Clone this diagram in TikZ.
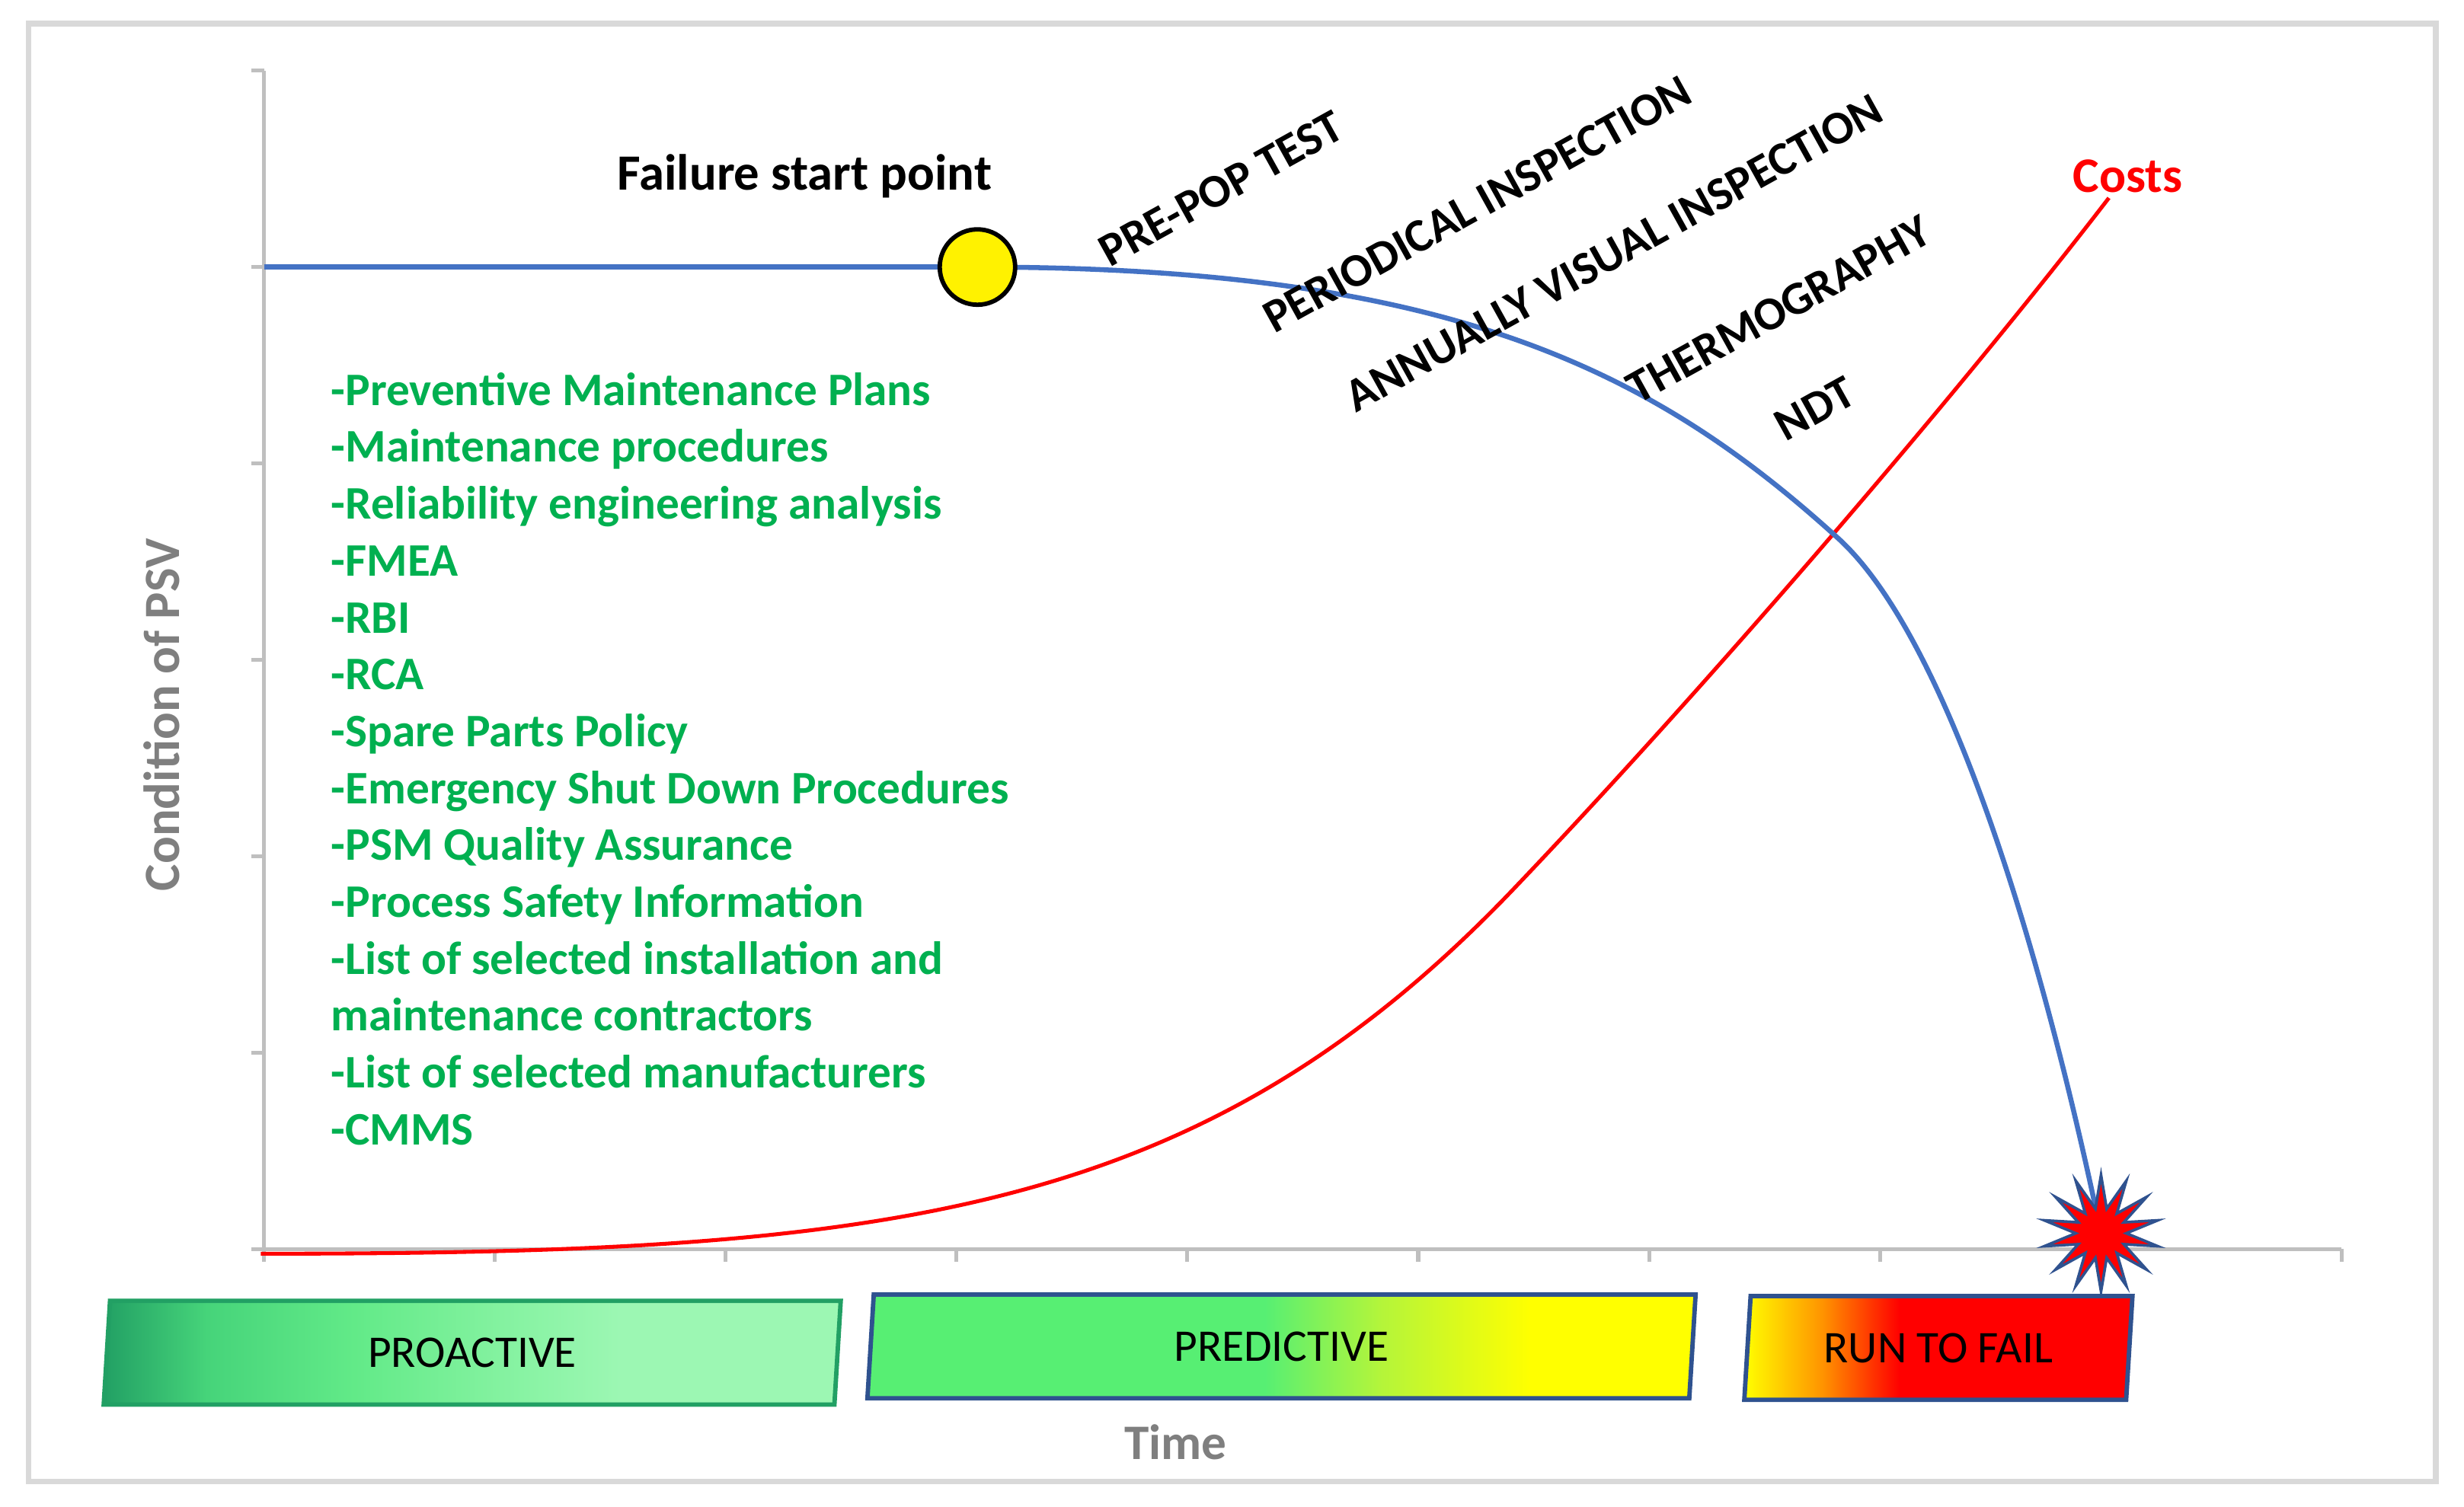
\documentclass[tikz,border=0pt]{standalone}
\usepackage{fontspec}
\setmainfont{Carlito}
\usepackage{tikz}
\usetikzlibrary{positioning,shapes.geometric,backgrounds}
\definecolor{condblue}{HTML}{4472C4}
\definecolor{actgreen}{HTML}{00B050}
\definecolor{axisgray}{HTML}{BFBFBF}
\definecolor{labelgray}{HTML}{7F7F7F}
\definecolor{framegray}{HTML}{D9D9D9}
\definecolor{bandblue}{HTML}{2F528F}
\definecolor{proA}{HTML}{22A064}
\definecolor{proB}{HTML}{46D47A}
\definecolor{proC}{HTML}{62EA88}
\definecolor{proD}{HTML}{84F2A0}
\definecolor{proE}{HTML}{9CF7B3}
\definecolor{predG}{HTML}{57EF73}
\definecolor{predM}{HTML}{B4F53A}
\definecolor{runO}{HTML}{FF9400}
\pgfdeclarehorizontalshading{proactshade}{100bp}{color(0bp)=(proA); color(25bp)=(proA); color(32bp)=(proB); color(42bp)=(proC); color(52bp)=(proD); color(60bp)=(proE); color(100bp)=(proE)}
\pgfdeclarehorizontalshading{predshade}{100bp}{color(0bp)=(predG); color(49bp)=(predG); color(56bp)=(predM); color(65bp)=(yellow); color(100bp)=(yellow)}
\pgfdeclarehorizontalshading{runshade}{100bp}{color(0bp)=(yellow); color(25bp)=(yellow); color(35bp)=(runO); color(45bp)=(red); color(100bp)=(red)}

\begin{document}
\begin{tikzpicture}[every node/.style={font=\fontsize{8.45}{10.3}\selectfont\bfseries},
  actitem/.style={anchor=base west,inner sep=0pt,text=actgreen},
  insp/.style={rotate=29,inner sep=0pt,font=\fontsize{8.5}{10}\selectfont\bfseries},
  band/.style={trapezium,trapezium left angle=78,trapezium right angle=102,
    trapezium stretches body=true,minimum height=0.66cm,inner sep=0pt,shade,
    draw=bandblue,line width=0.8pt,font=\fontsize{8.2}{10}\selectfont},
  axis/.style={axisgray,line width=0.7pt},
  condline/.style={condblue,line width=0.9pt},
  costline/.style={red,line width=0.7pt}]
  \useasboundingbox (0,0) rectangle (15.68,9.59);
  % ---- markers and titles ----
  \node[circle,fill=yellow,draw=black,line width=0.8pt,minimum size=0.48cm,inner sep=0pt] (fsp) at (6.22,7.89) {};
  \node[font=\fontsize{9.2}{11}\selectfont\bfseries] (fsplabel) at (5.12,8.47) {Failure start point};
  \node[text=red,font=\fontsize{9}{11}\selectfont\bfseries] (costs) at (13.54,8.47) {Costs};
  \node[star,star points=14,star point ratio=2.3,minimum size=0.74cm,inner sep=0pt,
        fill=red,draw=bandblue,line width=0.5pt] (boom) at (13.37,1.74) {};
  % inspection methods along the curve
  \foreach \t/\x/\y [count=\i] in {PRE-POP TEST/7.77/8.39,PERIODICAL INSPECTION/9.40/8.29,
      ANNUALLY VISUAL INSPECTION/10.27/7.98,THERMOGRAPHY/11.32/7.62,NDT/11.55/6.99}
    \node[insp] (insp-\i) at (\x,\y) {\t};
  % proactive measures
  \foreach \t [count=\i] in {-Preventive Maintenance Plans,-Maintenance procedures,
      -Reliability engineering analysis,-FMEA,-RBI,-RCA,-Spare Parts Policy,
      -Emergency Shut Down Procedures,-PSM Quality Assurance,-Process Safety Information,
      -List of selected installation and,maintenance contractors,
      -List of selected manufacturers,-CMMS}
    \node[actitem] (act-\i) at (2.10,{7.01-0.362*(\i-1)}) {\t};
  % ---- axis labels ----
  \node[rotate=90,text=labelgray,font=\fontsize{9.2}{11}\selectfont\bfseries] (ylab) at (1.03,5.04) {Condition of PSV};
  \node[text=labelgray,font=\fontsize{9}{11}\selectfont\bfseries] (xlab) at (7.48,0.41) {Time};
  % ---- strategy bands ----
  \node[band,shading=proactshade,draw=proA,minimum width=4.69cm] (proact) at (3.005,0.98) {PROACTIVE};
  \node[band,shading=predshade,minimum width=5.27cm] (pred) at (8.155,1.02) {PREDICTIVE};
  \node[band,shading=runshade,minimum width=2.47cm] (rtf) at (12.335,1.01) {RUN TO FAIL};
  % ---- frame, axes and curves behind ----
  \begin{pgfonlayer}{background}
    \draw[framegray,line width=1pt] (0.18,0.16) rectangle (15.50,9.44);
    \draw[axis] (1.68,9.14) -- (1.68,1.64);
    \draw[axis] (1.62,1.64) -- (14.90,1.64);
    \foreach \k in {0,...,9}
      \draw[axis] ({1.68+1.469*\k},1.64) -- ++(0,-0.08);
    \foreach \k in {0,...,6}
      \draw[axis] (1.68,{9.14-1.25*\k}) -- ++(-0.08,0);
    \coordinate (costs-end) at (13.42,8.33);
    \draw[costline] (1.66,1.61) .. controls (5.66,1.61) and (7.64,1.84) .. (9.64,3.94)
      .. controls (10.84,5.20) and (12.42,7.03) .. (costs-end);
    \draw[condline] (1.68,7.89) -- (fsp.center);
    \draw[condline] (fsp.center) .. controls (9.22,7.89) and (10.51,7.24) .. (11.69,6.17)
      .. controls (12.36,5.57) and (12.96,3.70) .. (boom.center);
  \end{pgfonlayer}
\end{tikzpicture}
\end{document}
